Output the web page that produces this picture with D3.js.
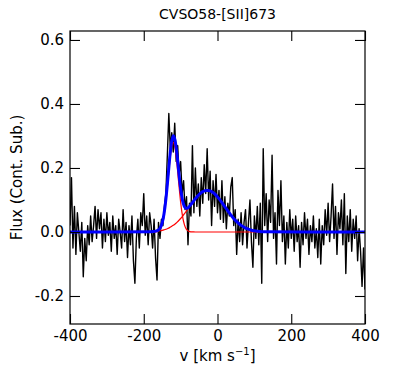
<!DOCTYPE html>
<html>
<head>
<meta charset="utf-8">
<script src="https://cdn.jsdelivr.net/npm/d3@7"></script>
<style>
  body { margin: 0; background: #fff; }
  text { font-family: "DejaVu Sans", sans-serif; fill: #000; }
</style>
</head>
<body>
<svg id="plot" width="407" height="370"></svg>
<script>
// observed spectrum, v from -400 to 400 in steps of 4 km/s
const V_START = -400, V_STEP = 4;
const FLUX = [
  0.02, 0.17, -0.05, 0.08, -0.07, 0.06, 0.00, -0.06, 0.03, -0.14,
  -0.02, -0.09, 0.02, -0.04, 0.05, -0.03, 0.02, 0.08, -0.02, 0.07,
  0.01, 0.06, -0.05, 0.04, -0.03, 0.06, -0.01, 0.03, -0.06, 0.05,
  -0.02, 0.02, -0.07, 0.04, 0.00, -0.05, 0.07, -0.03, 0.03, -0.08,
  0.02, -0.04, 0.05, -0.09, -0.16, -0.02, 0.04, -0.05, 0.06, 0.02,
  0.12, -0.01, 0.05, -0.04, 0.06, 0.02, -0.05, 0.04, -0.08, -0.15,
  0.03, -0.02, 0.04, 0.02, 0.08, 0.12, 0.24, 0.37, 0.26, 0.31,
  0.25, 0.34, 0.22, 0.27, 0.18, 0.22, 0.12, 0.16, 0.07, 0.11,
  -0.04, 0.09, 0.05, 0.27, 0.06, 0.20, 0.08, 0.15, 0.05, 0.17,
  0.09, 0.21, 0.12, 0.26, 0.10, 0.19, 0.02, 0.16, 0.08, 0.18,
  0.06, 0.13, 0.04, 0.16, 0.03, 0.11, 0.01, 0.09, 0.05, 0.14,
  0.17, 0.02, 0.07, -0.07, 0.04, -0.03, 0.06, -0.04, 0.03, 0.07,
  -0.05, 0.03, 0.10, -0.03, -0.11, 0.05, -0.02, 0.08, -0.04, 0.09,
  -0.16, 0.26, 0.02, 0.12, -0.03, 0.10, 0.03, 0.24, -0.02, 0.06,
  -0.10, 0.13, 0.02, 0.16, -0.03, 0.05, -0.10, 0.03, -0.05, 0.07,
  -0.02, 0.04, -0.06, 0.05, -0.03, 0.02, -0.11, 0.03, -0.04, 0.06,
  -0.02, 0.04, -0.07, 0.02, -0.03, 0.05, -0.05, 0.01, -0.08, 0.04,
  -0.10, 0.02, -0.04, 0.07, -0.01, 0.09, -0.03, 0.05, 0.15, -0.02,
  0.08, -0.07, 0.06, 0.01, 0.10, -0.04, 0.12, -0.13, 0.05, -0.03,
  0.07, -0.06, 0.04, -0.02, 0.05, -0.09, 0.01, -0.06, -0.17, -0.05,
  -0.18
];

// fitted components
const MODEL_V = [-400, -180, -175, -170, -165, -160, -155, -150, -145, -140, -135,
  -130, -125, -120, -115, -110, -105, -100, -95, -90, -85,
  -80, -75, -70, -65, -60, -55, -50, -45, -40, -35,
  -30, -25, -20, -15, -10, -5, 0, 5, 10, 15,
  20, 25, 30, 35, 40, 45, 50, 55, 60, 65,
  70, 75, 80, 85, 90, 95, 100, 105, 110, 115,
  120, 125, 130, 400];
const NARROW = [0, 0, 0.0001, 0.0003, 0.0011, 0.0035, 0.0097, 0.0237, 0.0504, 0.0935, 0.151,
  0.213, 0.261, 0.280, 0.261, 0.213, 0.151, 0.0935, 0.0504, 0.0237, 0.0097,
  0.0035, 0.0011, 0.0003, 0.0001, 0, 0, 0, 0, 0, 0,
  0, 0, 0, 0, 0, 0, 0, 0, 0, 0,
  0, 0, 0, 0, 0, 0, 0, 0, 0, 0,
  0, 0, 0, 0, 0, 0, 0, 0, 0, 0,
  0, 0, 0, 0];
const BROAD = [0, 0.0009, 0.0012, 0.0016, 0.0022, 0.0030, 0.0039, 0.0051, 0.0067, 0.0085, 0.0108,
  0.0136, 0.0169, 0.0207, 0.0251, 0.0302, 0.0359, 0.0422, 0.0491, 0.0564, 0.0642,
  0.0723, 0.0805, 0.0887, 0.0966, 0.1041, 0.1110, 0.1170, 0.1221, 0.1260, 0.1286,
  0.1300, 0.1297, 0.1282, 0.1253, 0.1212, 0.1159, 0.1097, 0.1026, 0.0950, 0.0870,
  0.0788, 0.0707, 0.0626, 0.0549, 0.0477, 0.0409, 0.0347, 0.0292, 0.0242, 0.0199,
  0.0162, 0.0130, 0.0103, 0.0081, 0.0063, 0.0049, 0.0037, 0.0029, 0.0021, 0.0015,
  0.0011, 0.0008, 0.0006, 0];
const TOTAL = [0, 0.0009, 0.0013, 0.0019, 0.0033, 0.0065, 0.0136, 0.0288, 0.0571, 0.1020, 0.1618,
  0.2266, 0.2779, 0.3007, 0.2861, 0.2432, 0.1869, 0.1357, 0.0995, 0.0801, 0.0739,
  0.0758, 0.0816, 0.0890, 0.0967, 0.1041, 0.1110, 0.1170, 0.1221, 0.1260, 0.1286,
  0.1300, 0.1297, 0.1282, 0.1253, 0.1212, 0.1159, 0.1097, 0.1026, 0.0950, 0.0870,
  0.0788, 0.0707, 0.0626, 0.0549, 0.0477, 0.0409, 0.0347, 0.0292, 0.0242, 0.0199,
  0.0162, 0.0130, 0.0103, 0.0081, 0.0063, 0.0049, 0.0037, 0.0029, 0.0021, 0.0015,
  0.0011, 0.0008, 0.0006, 0];

const X_TICKS = [-400, -200, 0, 200, 400];
const Y_TICKS = [-0.2, 0.0, 0.2, 0.4, 0.6];
const TITLE = 'CVSO58-[SII]673';

const MARGIN = { top: 31, right: 42, bottom: 46, left: 70 };
const W = 407 - MARGIN.left - MARGIN.right;
const H = 370 - MARGIN.top - MARGIN.bottom;

const svg = d3.select('#plot');
const g = svg.append('g').attr('transform', `translate(${MARGIN.left},${MARGIN.top})`);

const x = d3.scaleLinear().domain([-400, 400]).range([0, W]);
const y = d3.scaleLinear().domain([-0.2875, 0.628]).range([H, 0]);

g.append('clipPath').attr('id', 'clip')
  .append('rect').attr('width', W).attr('height', H);

const spec = FLUX.map((f, i) => [V_START + i * V_STEP, f]);
const line = d3.line().x(d => x(d[0])).y(d => y(d[1]));

const plotArea = g.append('g').attr('clip-path', 'url(#clip)');

plotArea.append('path')
  .datum(spec)
  .attr('d', line)
  .attr('fill', 'none')
  .attr('stroke', '#000')
  .attr('stroke-width', 1.4)
  .attr('stroke-linejoin', 'round');

const modelLine = d3.line().x(d => x(d[0])).y(d => y(d[1])).curve(d3.curveMonotoneX);
[NARROW, BROAD].forEach(comp => {
  plotArea.append('path')
    .datum(MODEL_V.map((v, i) => [v, comp[i]]))
    .attr('d', modelLine)
    .attr('fill', 'none')
    .attr('stroke', '#ff0000')
    .attr('stroke-width', 1.2);
});

plotArea.append('path')
  .datum(MODEL_V.map((v, i) => [v, TOTAL[i]]))
  .attr('d', modelLine)
  .attr('fill', 'none')
  .attr('stroke', '#0000ff')
  .attr('stroke-width', 3);

// axes: ticks point inward on all four sides
const xMinor = d3.range(-400, 401, 50);
const yMinor = d3.range(-0.25, 0.61, 0.05);

function addAxis(axisFn, scale, major, minor, transform, labels) {
  const ga = g.append('g').attr('transform', transform);
  ga.call(axisFn(scale).tickValues(minor).tickSize(-5).tickFormat(''));
  ga.call(axisFn(scale).tickValues(major).tickSize(-10).tickPadding(labels ? 6 : 0)
    .tickFormat(labels ? labels : ''));
  ga.selectAll('.domain').remove();
  ga.selectAll('line').attr('stroke', '#000').attr('stroke-width', 1.1);
  ga.selectAll('text').style('font-size', '15px').style('font-family', '"DejaVu Sans", sans-serif');
  return ga;
}

addAxis(d3.axisBottom, x, X_TICKS, xMinor, `translate(0,${H})`, d => d3.format('d')(d).replace('−', '-'));
addAxis(d3.axisTop, x, X_TICKS, xMinor, 'translate(0,0)', null);
addAxis(d3.axisLeft, y, Y_TICKS, yMinor, 'translate(0,0)', d => d3.format('.1f')(d).replace('−', '-'));
addAxis(d3.axisRight, y, Y_TICKS, yMinor, `translate(${W},0)`, null);

g.append('rect')
  .attr('width', W).attr('height', H)
  .attr('fill', 'none').attr('stroke', '#000').attr('stroke-width', 1.2);

svg.append('text')
  .attr('x', MARGIN.left + W / 2).attr('y', 19)
  .attr('text-anchor', 'middle')
  .style('font-size', '14px')
  .text(TITLE);

const xl = svg.append('text')
  .attr('x', MARGIN.left + W / 2).attr('y', 361)
  .attr('text-anchor', 'middle')
  .style('font-size', '15px');
xl.append('tspan').text('v [km s');
xl.append('tspan').attr('dy', -6).style('font-size', '10px').text('−1');
xl.append('tspan').attr('dy', 6).text(']');

svg.append('text')
  .attr('transform', `translate(22,${MARGIN.top + H / 2}) rotate(-90)`)
  .attr('text-anchor', 'middle')
  .style('font-size', '15px')
  .text('Flux (Cont. Sub.)');
</script>
</body>
</html>
